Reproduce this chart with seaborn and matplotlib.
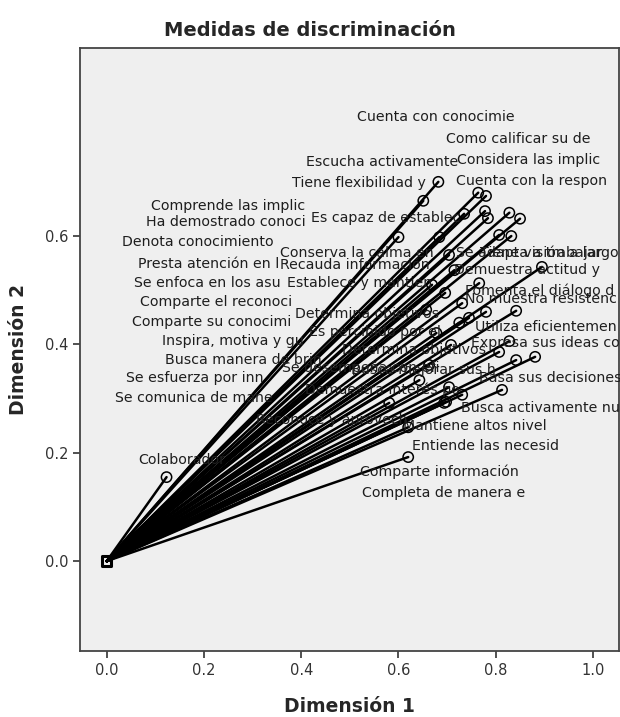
import matplotlib
matplotlib.use("Agg")
import matplotlib.pyplot as plt
import seaborn as sns
import pandas as pd

# ---- data -------------------------------------------------------------
items = [
    "Cuenta con conocimie", "Como calificar su de", "Considera las implic",
    "Cuenta con la respon", "Escucha activamente", "Tiene flexibilidad y",
    "Comprende las implic", "Ha demostrado conoci", "Es capaz de establec",
    "Denota conocimiento", "Conserva la calma en", "Presta atención en l",
    "Recauda información", "Se enfoca en los asu", "Establece y mantien",
    "Se adapta a trabajar", "Tiene visión a largo", "Demuestra actitud y",
    "Fomenta el diálogo d", "No muestra resistenc", "Comparte el reconoci",
    "Determina objetivos", "Comparte su conocimi", "Es percibido por el",
    "Utiliza eficientemen", "Inspira, motiva y gu", "Determina objetivos ",
    "Expresa sus ideas co", "Busca manera de brin", "Se desempeña con efi",
    "Busca mejorar sus h", "Basa sus decisiones", "Se esfuerza por inn",
    "Se comunica de mane", "Demuestra interés po", "Reconoce y aprovech",
    "Busca activamente nu", "Mantiene altos nivel", "Entiende las necesid",
    "Colaborador", "Comparte información", "Completa de manera e",
]
dim1 = [
    0.682, 0.764, 0.780, 0.828, 0.651, 0.735,
    0.600, 0.684, 0.778, 0.704, 0.784, 0.715,
    0.669, 0.696, 0.807, 0.850, 0.832, 0.895,
    0.842, 0.780, 0.731, 0.657, 0.745, 0.725,
    0.828, 0.678, 0.708, 0.807, 0.663, 0.643,
    0.842, 0.881, 0.704, 0.694, 0.731, 0.581,
    0.813, 0.620, 0.766, 0.123, 0.620, 0.698,
]
dim2 = [
    0.700, 0.680, 0.674, 0.643, 0.665, 0.641,
    0.598, 0.598, 0.646, 0.565, 0.633, 0.537,
    0.510, 0.495, 0.602, 0.632, 0.600, 0.543,
    0.462, 0.460, 0.476, 0.464, 0.449, 0.440,
    0.406, 0.421, 0.399, 0.386, 0.362, 0.334,
    0.371, 0.377, 0.321, 0.292, 0.307, 0.292,
    0.316, 0.247, 0.513, 0.155, 0.192, 0.294,
]
x_ticks = [0.0, 0.2, 0.4, 0.6, 0.8, 1.0]
y_ticks = [0.0, 0.2, 0.4, 0.6]

# label placement (data coords, left edge / vertical centre) - layout only
label_pos = [
    (0.515, 0.820), (0.698, 0.779), (0.721, 0.741), (0.719, 0.702),
    (0.409, 0.737), (0.382, 0.698), (0.092, 0.656), (0.080, 0.626),
    (0.421, 0.633), (0.031, 0.589), (0.357, 0.569), (0.064, 0.548),
    (0.357, 0.547), (0.057, 0.513), (0.370, 0.513), (0.719, 0.569),
    (0.768, 0.569), (0.715, 0.537), (0.737, 0.499), (0.737, 0.484),
    (0.068, 0.478), (0.388, 0.456), (0.053, 0.441), (0.417, 0.423),
    (0.758, 0.432), (0.113, 0.406), (0.483, 0.390), (0.749, 0.403),
    (0.119, 0.371), (0.361, 0.356), (0.503, 0.353), (0.766, 0.338),
    (0.039, 0.338), (0.016, 0.301), (0.407, 0.316), (0.306, 0.260),
    (0.729, 0.283), (0.610, 0.249), (0.628, 0.212), (0.064, 0.187),
    (0.520, 0.164), (0.524, 0.126),
]

# ---- build long table: each item is a segment from origin -------------
rows = []
for name, a, b in zip(items, dim1, dim2):
    rows.append({"item": name, "d1": 0.0, "d2": 0.0})
    rows.append({"item": name, "d1": a, "d2": b})
seg = pd.DataFrame(rows)
pts = pd.DataFrame({"item": items, "d1": dim1, "d2": dim2})

sns.set_theme(style="white")
plt.rcParams["font.family"] = ["DejaVu Sans"]

fig = plt.figure(figsize=(6.2, 7.17), dpi=100)
ax = fig.add_axes([0.129, 0.092, 0.869, 0.841])
ax.set_facecolor("#efefef")

sns.lineplot(data=seg, x="d1", y="d2", units="item", estimator=None,
             color="black", lw=1.8, sort=False, ax=ax, legend=False)
sns.scatterplot(data=pts, x="d1", y="d2", marker="o", s=55,
                facecolors="none", edgecolor="black", linewidth=1.1,
                ax=ax, legend=False, zorder=3)
ax.scatter([0], [0], marker="s", s=45, facecolors="none",
           edgecolors="black", linewidths=2.2, zorder=4)

for name, (lx, ly) in zip(items, label_pos):
    ax.text(lx, ly, name.strip(), ha="left", va="center",
            fontsize=10.2, color="#1e1e1e", zorder=5)

ax.set_xlim(-0.055, 1.053)
ax.set_ylim(-0.166, 0.947)
ax.set_xticks(x_ticks)
ax.set_yticks(y_ticks)
ax.set_xticklabels([f"{v:.1f}" for v in x_ticks])
ax.set_yticklabels([f"{v:.1f}" for v in y_ticks])
ax.tick_params(axis="both", direction="out", length=5, width=1.2,
               color="#333333", labelsize=10.5, labelcolor="#333333",
               bottom=True, left=True)
for sp in ax.spines.values():
    sp.set_color("#444444")
    sp.set_linewidth(1.3)

ax.set_xlabel("Dimensión 1", fontsize=13.5, fontweight="bold", labelpad=14)
ax.set_ylabel("Dimensión 2", fontsize=13.5, fontweight="bold", labelpad=12)
fig.text(0.5, 0.958, "Medidas de discriminación", ha="center", va="center",
         fontsize=14, fontweight="bold")

fig.savefig("out.png", dpi=100)
